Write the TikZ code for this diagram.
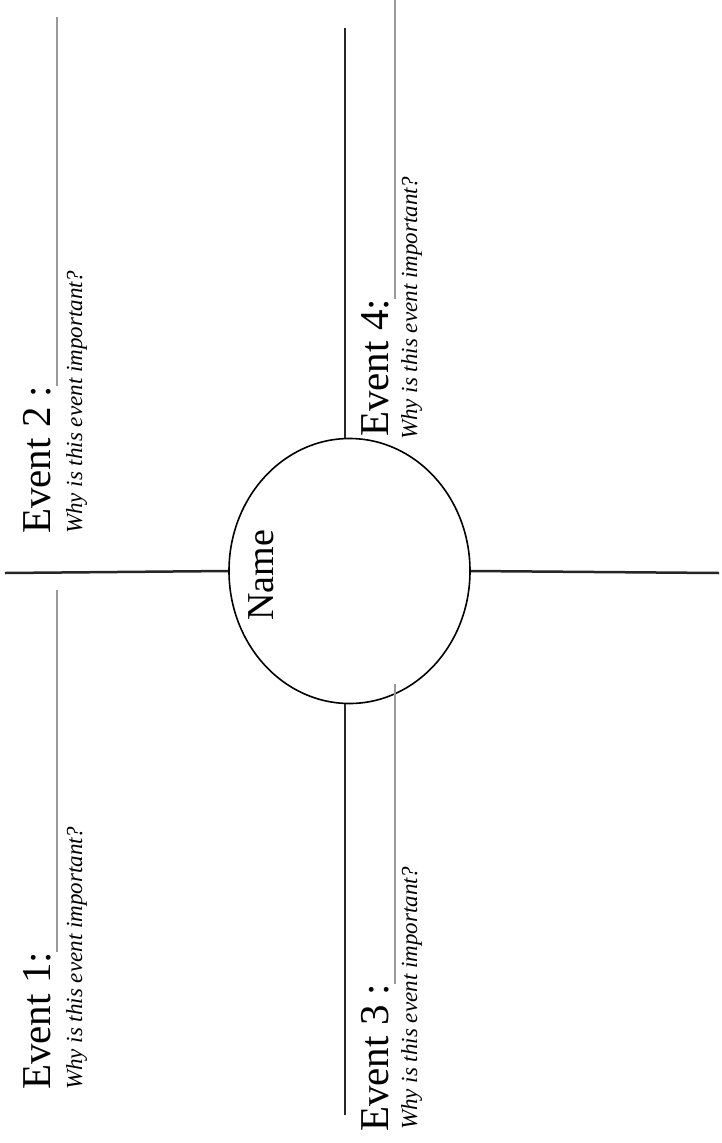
\documentclass[tikz,border=0pt]{standalone}
\usepackage{fontspec}
\setmainfont{Liberation Serif}
\usetikzlibrary{shapes.geometric}
\begin{document}
\begin{tikzpicture}[x=1pt,y=-1pt,
  axis/.style={line width=2.5pt,black!85},
  blank/.style={line width=1.4pt,black!40},
  evt/.style={rotate=90,anchor=base west,inner sep=0pt,font=\fontsize{41}{43}\selectfont},
  why/.style={rotate=90,anchor=base west,inner sep=0pt,font=\fontsize{23}{25}\selectfont\itshape}]
\useasboundingbox (0,0) rectangle (721,1143);
\fill[white] (0,0) rectangle (721,1143);
% centre
\node[ellipse,draw,line width=1.6pt,minimum width=241pt,minimum height=265pt,inner sep=0pt] (c) at (349.5,571) {};
\node[rotate=90,anchor=base west,inner sep=0pt,font=\fontsize{38}{40}\selectfont] (name) at (273,621) {Name};
% axes
\coordinate (l) at (5,573);
\coordinate (r) at (719,573);
\coordinate (t) at (345,28);
\coordinate (b) at (345,1115);
\draw[axis] (l) -- (c.west);
\draw[axis] (c.east) -- (r);
\draw[axis] (t) -- (t |- c.north);
\draw[axis] (b |- c.south) -- (b);
% event labels
\node[evt] (e2) at (50,534) {Event 2 :};
\node[why] (w2) at (82,534) {Why is this event important?};
\node[evt] (e1) at (50,1090) {Event 1:};
\node[why] (w1) at (82,1090) {Why is this event important?};
\node[evt] (e4) at (388,437) {Event 4:};
\node[why] (w4) at (417,440) {Why is this event important?};
\node[evt] (e3) at (388,1132) {Event 3 :};
\node[why] (w3) at (417,1130) {Why is this event important?};
% answer lines
\coordinate (a2) at (57,17);
\coordinate (a1) at (57,590);
\coordinate (a4) at (395,0);
\coordinate (a3) at (395,684);
\draw[blank] (a2) -- (a2 |- e2.east);
\draw[blank] (a1) -- (a1 |- e1.east);
\draw[blank] (a4) -- (a4 |- e4.east);
\draw[blank] (a3) -- (a3 |- e3.east);
\end{tikzpicture}
\end{document}
